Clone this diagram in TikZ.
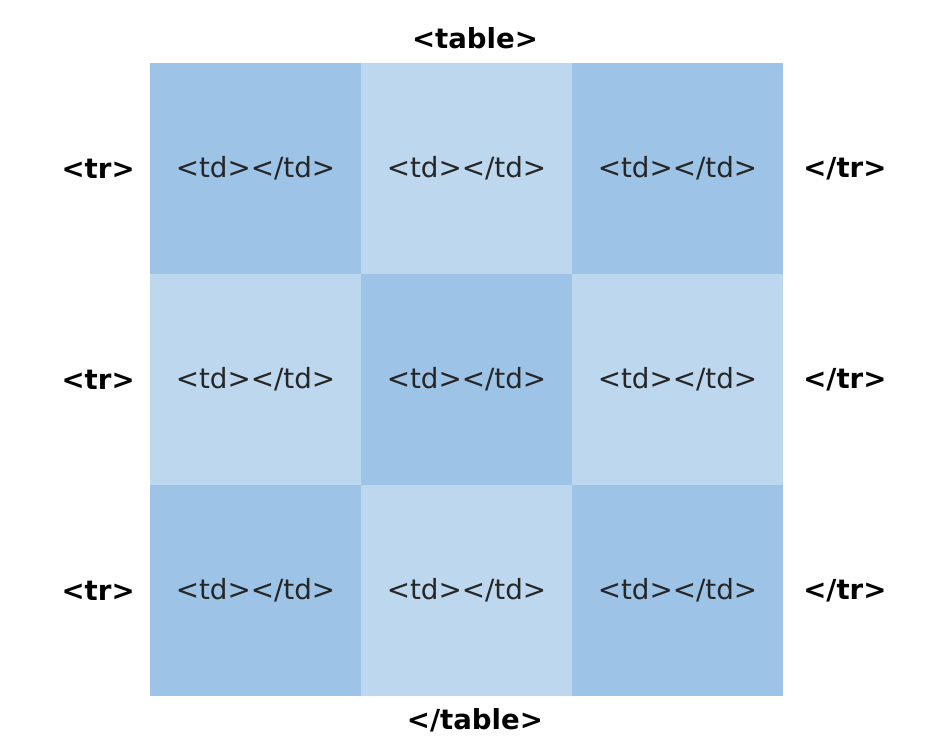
\documentclass[tikz,border=0pt]{standalone}
\usepackage{fontspec}
\setmainfont{DejaVu Sans}
\usepackage{tikz}
\usetikzlibrary{positioning}
\definecolor{celldark}{HTML}{9DC3E6}
\definecolor{celllight}{HTML}{BDD7EE}

\begin{document}
\begin{tikzpicture}[
    cell/.style={minimum size=4.22cm, inner sep=0pt, outer sep=0pt, font=\fontsize{15.8}{18}\selectfont, text=black!85},
    tag/.style={font=\fontsize{15.7}{18}\selectfont\bfseries, inner sep=0pt}
]
\useasboundingbox (0,0) rectangle (18.66,14.8);

% 3x3 grid of cells, checkerboard shading
\foreach \r in {1,2,3} {
    \foreach \c in {1,2,3} {
        \pgfmathtruncatemacro\odd{mod(\r+\c,2)}
        \ifnum\odd=0 \def\col{celldark}\else\def\col{celllight}\fi
        \node[cell, fill=\col] (cell-\r-\c) at ({0.89+4.22*\c}, {15.65-4.22*\r}) {<td></td>};
    }
    \node[tag, left=0.3cm of cell-\r-1] (open-\r) {<tr>};
    \node[tag, right=0.4cm of cell-\r-3] (close-\r) {</tr>};
}

% table tags
\node[tag] (tabopen) at (9.5, 14.04) {<table>};
\node[tag] (tabclose) at (9.5, 0.4) {</table>};

\end{tikzpicture}
\end{document}
